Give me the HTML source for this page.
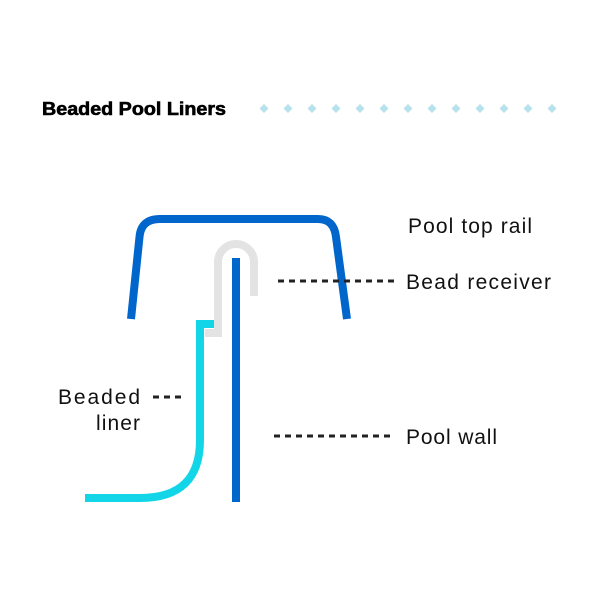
<!DOCTYPE html>
<html><head><style>
html,body{margin:0;padding:0;background:#fff;}
svg{display:block;}
</style></head><body>
<svg width="600" height="600" viewBox="0 0 600 600" xmlns="http://www.w3.org/2000/svg">
<rect width="600" height="600" fill="#fff"/>
<text x="42" y="115" font-family="Liberation Sans, sans-serif" font-weight="bold" font-size="18" fill="#000" textLength="184" lengthAdjust="spacingAndGlyphs" stroke="#000" stroke-width="0.6">Beaded Pool Liners</text>
<g fill="#b6e2ee">
<path d="M264 104l4.5 4.5-4.5 4.5-4.5-4.5z"/><path d="M288 104l4.5 4.5-4.5 4.5-4.5-4.5z"/><path d="M312 104l4.5 4.5-4.5 4.5-4.5-4.5z"/><path d="M336 104l4.5 4.5-4.5 4.5-4.5-4.5z"/><path d="M360 104l4.5 4.5-4.5 4.5-4.5-4.5z"/><path d="M384 104l4.5 4.5-4.5 4.5-4.5-4.5z"/><path d="M408 104l4.5 4.5-4.5 4.5-4.5-4.5z"/><path d="M432 104l4.5 4.5-4.5 4.5-4.5-4.5z"/><path d="M456 104l4.5 4.5-4.5 4.5-4.5-4.5z"/><path d="M480 104l4.5 4.5-4.5 4.5-4.5-4.5z"/><path d="M504 104l4.5 4.5-4.5 4.5-4.5-4.5z"/><path d="M528 104l4.5 4.5-4.5 4.5-4.5-4.5z"/><path d="M552 104l4.5 4.5-4.5 4.5-4.5-4.5z"/>
</g>
<path d="M131 319 L139.5 237 Q141 219 160 219 L318 219 Q334 219 336 237 L347 319" fill="none" stroke="#0066cc" stroke-width="8"/>
<path d="M254 296 L254 262 A18 18 0 0 0 218 262 L218 333 L205 333" fill="none" stroke="#e3e3e3" stroke-width="8"/>
<path d="M214 324 L200 324 L200 440 Q200 498 140 498 L85 498" fill="none" stroke="#12d6e8" stroke-width="8"/>
<line x1="236" y1="258" x2="236" y2="502" stroke="#0066cc" stroke-width="8"/>
<g stroke="#222" stroke-width="3" stroke-dasharray="6 5">
<line x1="278" y1="281" x2="394" y2="281"/>
<line x1="274" y1="436" x2="390" y2="436"/>
<line x1="153" y1="397" x2="186" y2="397"/>
</g>
<g font-family="Liberation Sans, sans-serif" font-size="21" fill="#111" lengthAdjust="spacingAndGlyphs">
<text x="408" y="233" textLength="124">Pool top rail</text>
<text x="406" y="289" textLength="145">Bead receiver</text>
<text x="406" y="444" textLength="91">Pool wall</text>
<text x="58" y="404" textLength="82">Beaded</text>
<text x="96" y="430" textLength="44">liner</text>
</g>
</svg>
</body></html>
